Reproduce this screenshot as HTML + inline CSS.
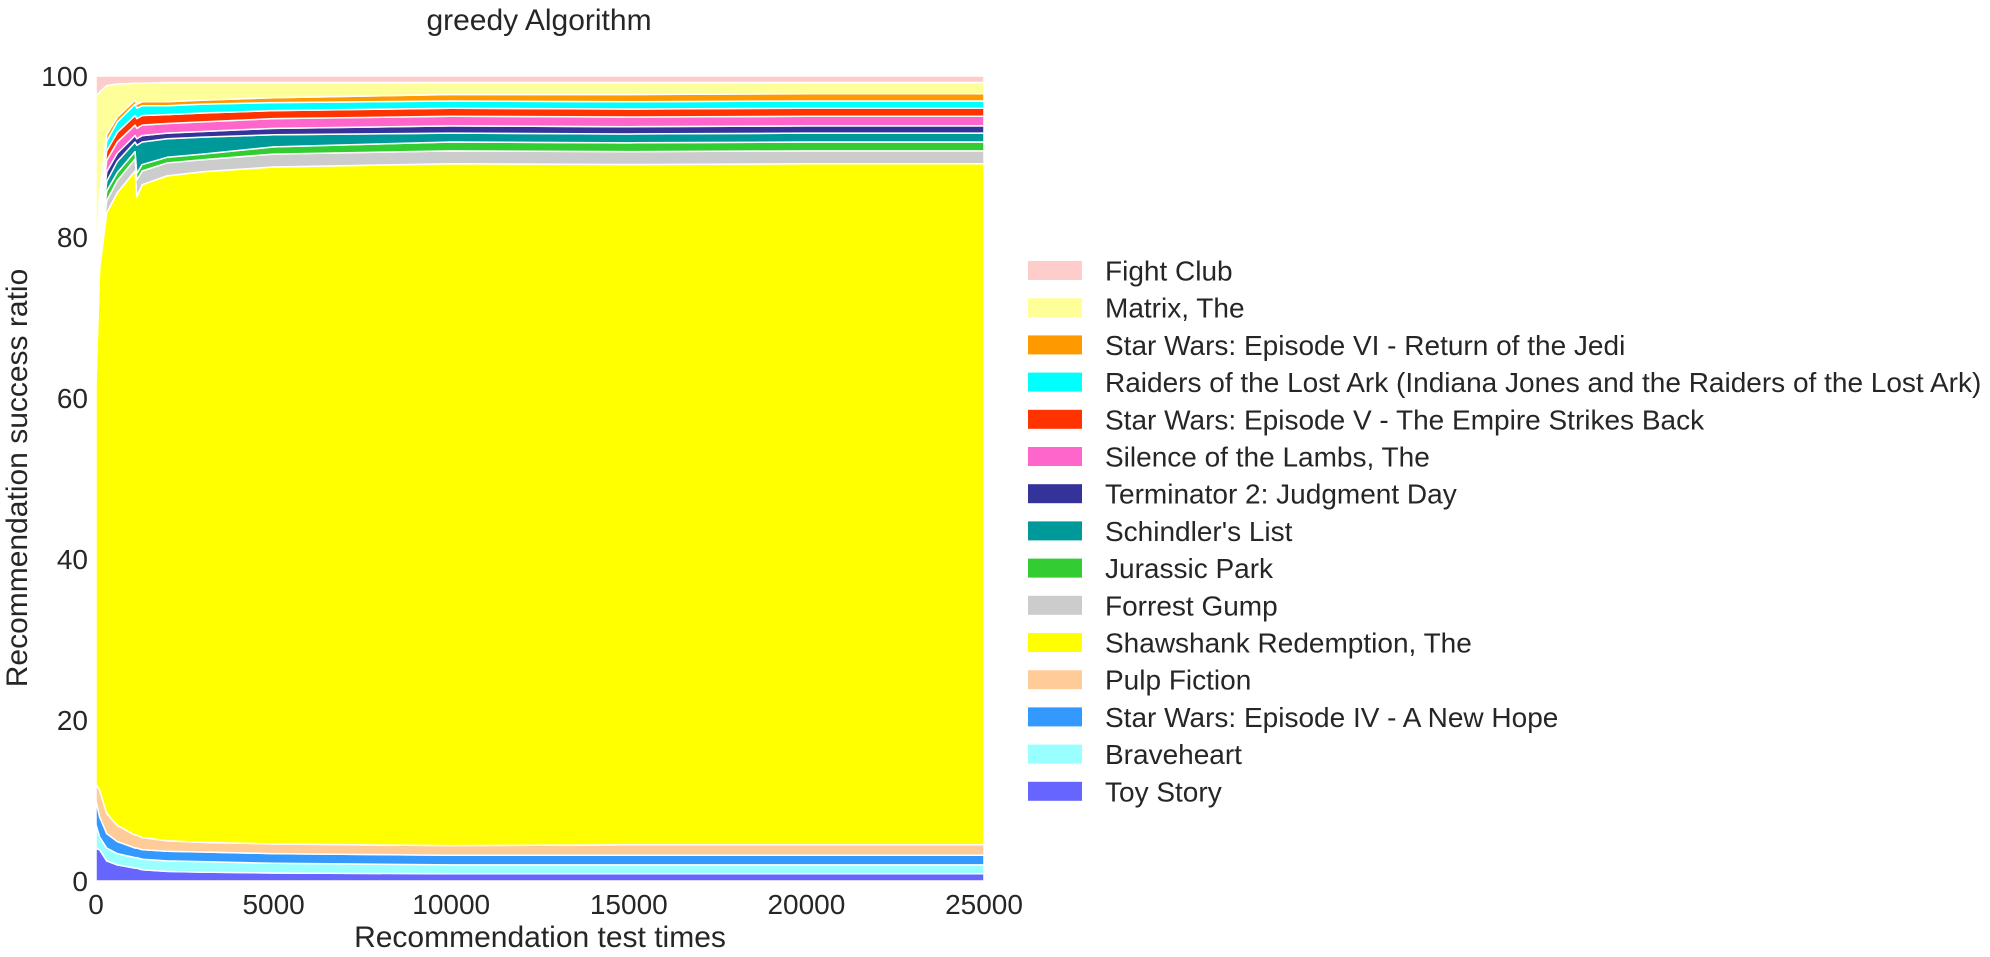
<!DOCTYPE html>
<html><head><meta charset="utf-8"><style>
html,body{margin:0;padding:0;background:#fff;}
svg{display:block;font-family:"Liberation Sans",Arial,sans-serif;fill:#262626;}
</style></head><body>
<svg id="chart" width="1990" height="957" viewBox="0 0 1990 957">
<text x="539" y="30" font-size="30" text-anchor="middle">greedy Algorithm</text>
<g id="areas"></g>
<g id="yticks"></g>
<g id="xticks"></g>
<text x="540" y="947" font-size="30" text-anchor="middle">Recommendation test times</text>
<text transform="translate(27,478) rotate(-90)" font-size="30" text-anchor="middle">Recommendation success ratio</text>
<g id="legend"></g>
</svg>
<script>
const times = [0,100,300,600,1100,1150,1300,2000,3000,5000,10000,15000,20000,25000];
const seriesNames = ["Toy Story","Braveheart","Star Wars: Episode IV - A New Hope","Pulp Fiction","Shawshank Redemption, The","Forrest Gump","Jurassic Park","Schindler's List","Terminator 2: Judgment Day","Silence of the Lambs, The","Star Wars: Episode V - The Empire Strikes Back","Raiders of the Lost Ark (Indiana Jones and the Raiders of the Lost Ark)","Star Wars: Episode VI - Return of the Jedi","Matrix, The","Fight Club"];
const seriesColors = ["#6666ff","#99ffff","#3399ff","#ffcc99","#ffff00","#cccccc","#33cc33","#009999","#333399","#ff66cc","#ff3300","#00ffff","#ff9900","#ffff99","#ffcccc"];
const toyStory  = [4.0,3.9,2.5,2.0,1.6,1.6,1.4,1.2,1.1,1.0,0.9,0.9,0.9,0.9];
const braveheart= [3.0,1.6,1.6,1.4,1.3,1.3,1.3,1.3,1.3,1.2,1.1,1.1,1.1,1.1];
const starWars4 = [3.0,2.5,1.8,1.5,1.2,1.2,1.2,1.2,1.2,1.2,1.2,1.2,1.2,1.2];
const pulpFiction=[2.0,3.3,2.5,2.0,1.6,1.6,1.5,1.3,1.2,1.2,1.2,1.3,1.3,1.3];
const shawshank = [50,64.7,74.6,78.6,82.5,79.3,81.1,82.6,83.3,84.1,84.7,84.5,84.6,84.6];
const forrestGump=[2.0,1.3,1.5,1.5,1.5,2.1,1.7,1.6,1.5,1.6,1.6,1.6,1.6,1.6];
const jurassic  = [1.5,1.0,1.2,1.0,0.9,0.8,0.8,0.7,0.7,0.9,1.1,1.1,1.1,1.1];
const schindler = [2.0,1.0,1.2,1.4,1.2,3.5,2.8,2.3,2.1,1.5,1.1,1.1,1.1,1.1];
const terminator2=[1.5,1.0,1.2,1.0,0.8,0.8,0.8,0.7,0.7,0.8,0.9,0.9,0.9,0.9];
const silence   = [2.0,1.5,1.4,1.4,1.3,1.3,1.3,1.2,1.2,1.2,1.2,1.2,1.2,1.2];
const starWars5 = [2.0,1.2,1.2,1.2,1.2,1.2,1.2,1.1,1.1,1.0,1.0,1.0,1.0,1.0];
const raiders   = [2.0,1.5,1.2,1.3,1.4,1.3,1.2,1.1,1.1,1.0,0.9,0.9,0.9,0.9];
const starWars6 = [2.0,1.0,0.8,0.6,0.5,0.5,0.5,0.5,0.5,0.6,0.8,0.9,0.9,0.9];
const matrix    = [20.5,12.5,6.1,4.1,2.1,2.6,2.3,2.4,2.2,1.9,1.5,1.5,1.4,1.4];
const fightClub = [2.5,2.0,1.2,1.0,0.9,0.9,0.9,0.8,0.8,0.8,0.8,0.8,0.8,0.8];
const yTicks = [0,20,40,60,80,100];
const xTicks = [0,5000,10000,15000,20000,25000];

const seriesValues=[toyStory,braveheart,starWars4,pulpFiction,shawshank,forrestGump,jurassic,schindler,terminator2,silence,starWars5,raiders,starWars6,matrix,fightClub];
const X0=96,X1=984,Y0=881,Y1=76;
const xs=v=>X0+(v-0)/(25000-0)*(X1-X0);
const ys=v=>Y0-(v-0)/(100-0)*(Y0-Y1);
const NS="http://www.w3.org/2000/svg";
const areas=document.getElementById('areas');
let base=times.map(()=>0);
seriesValues.forEach((vals,i)=>{
  const top=base.map((b,k)=>b+vals[k]);
  let pts=times.map((t,k)=>xs(t)+','+ys(top[k]));
  for(let k=times.length-1;k>=0;k--)pts.push(xs(times[k])+','+ys(base[k]));
  const p=document.createElementNS(NS,'polygon');
  p.setAttribute('points',pts.join(' '));
  p.setAttribute('fill',seriesColors[i]);
  p.setAttribute('stroke','#fff');
  p.setAttribute('stroke-width','1.5');
  p.setAttribute('stroke-linejoin','round');
  
  
  areas.appendChild(p);
  base=top;
});
const yt=document.getElementById('yticks');
yTicks.forEach(v=>{
  const t=document.createElementNS(NS,'text');
  t.setAttribute('x',88);t.setAttribute('y',ys(v)+10);
  t.setAttribute('font-size','28');t.setAttribute('text-anchor','end');
  t.textContent=v;
  
  
  yt.appendChild(t);
});
const xt=document.getElementById('xticks');
xTicks.forEach(v=>{
  const t=document.createElementNS(NS,'text');
  t.setAttribute('x',xs(v));t.setAttribute('y',914);
  t.setAttribute('font-size','28');t.setAttribute('text-anchor','middle');
  t.textContent=v;
  
  
  xt.appendChild(t);
});
const lg=document.getElementById('legend');
for(let j=0;j<seriesNames.length;j++){
  const i=seriesNames.length-1-j;
  const cy=270.5+j*37.2;
  const r=document.createElementNS(NS,'rect');
  r.setAttribute('x',1028);r.setAttribute('y',cy-9.5);
  r.setAttribute('width',54);r.setAttribute('height',19);
  r.setAttribute('fill',seriesColors[i]);
  
  
  lg.appendChild(r);
  const t=document.createElementNS(NS,'text');
  t.setAttribute('x',1105);t.setAttribute('y',cy+10);
  t.setAttribute('font-size','28');
  t.textContent=seriesNames[i];
  
  
  lg.appendChild(t);
}
</script>
</body></html>
